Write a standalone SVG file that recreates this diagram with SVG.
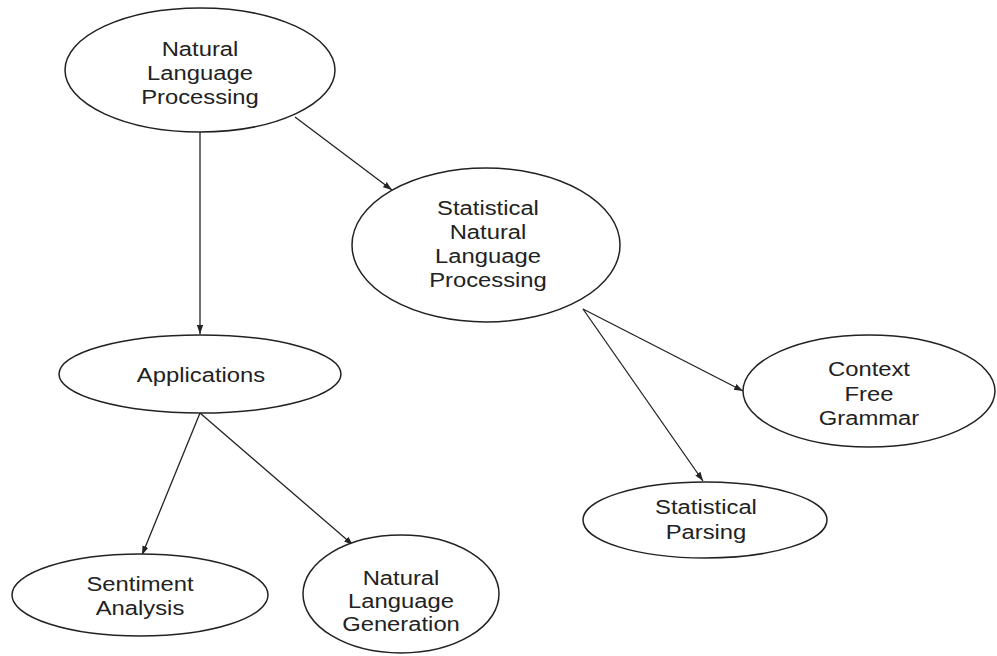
<svg xmlns="http://www.w3.org/2000/svg" width="997" height="656" viewBox="0 0 997 656">
<style>
.n{fill:#fff;stroke:#222;stroke-width:1.5}
.t{font-family:"Liberation Sans",Arial,sans-serif;font-size:20px;fill:#222;text-anchor:middle}
.c{stroke:#222;stroke-width:1.3;fill:none;marker-end:url(#ah)}
</style>
<defs>
<marker id="ah" viewBox="0 0 10 10" refX="10" refY="5" markerWidth="9" markerHeight="9" markerUnits="userSpaceOnUse" orient="auto">
<path d="M0,1.5 L10,5 L0,8.5 Z" fill="#222"/>
</marker>
</defs>
<rect width="997" height="656" fill="#fff"/>
<g id="connectors">
<line class="c" x1="200" y1="132" x2="200" y2="334"/>
<line class="c" x1="295" y1="117" x2="392" y2="190"/>
<line class="c" x1="200" y1="413" x2="142" y2="555"/>
<line class="c" x1="200" y1="413" x2="353" y2="545"/>
<line class="c" x1="583" y1="309" x2="743" y2="391"/>
<line class="c" x1="583" y1="309" x2="703" y2="481"/>
</g>
<g id="nlp">
<ellipse class="n" cx="200" cy="70" rx="135" ry="62"/>
<g transform="translate(200 0) scale(1.19 1)">
<text class="t" x="0" y="56">Natural</text>
<text class="t" x="0" y="80">Language</text>
<text class="t" x="0" y="104">Processing</text>
</g>
</g>
<g id="snlp">
<ellipse class="n" cx="486" cy="245" rx="134" ry="77"/>
<g transform="translate(488 0) scale(1.19 1)">
<text class="t" x="0" y="215">Statistical</text>
<text class="t" x="0" y="239">Natural</text>
<text class="t" x="0" y="263">Language</text>
<text class="t" x="0" y="287">Processing</text>
</g>
</g>
<g id="applications">
<ellipse class="n" cx="200" cy="374" rx="141" ry="39"/>
<g transform="translate(201 0) scale(1.19 1)">
<text class="t" x="0" y="382">Applications</text>
</g>
</g>
<g id="sentiment">
<ellipse class="n" cx="140" cy="595" rx="128" ry="41"/>
<g transform="translate(140 0) scale(1.19 1)">
<text class="t" x="0" y="591">Sentiment</text>
<text class="t" x="0" y="615">Analysis</text>
</g>
</g>
<g id="nlg">
<ellipse class="n" cx="401" cy="594" rx="98" ry="59"/>
<g transform="translate(401 0) scale(1.19 1)">
<text class="t" x="0" y="585">Natural</text>
<text class="t" x="0" y="608">Language</text>
<text class="t" x="0" y="631">Generation</text>
</g>
</g>
<g id="cfg">
<ellipse class="n" cx="869" cy="391" rx="126" ry="56"/>
<g transform="translate(869 0) scale(1.19 1)">
<text class="t" x="0" y="376">Context</text>
<text class="t" x="0" y="401">Free</text>
<text class="t" x="0" y="425">Grammar</text>
</g>
</g>
<g id="parsing">
<ellipse class="n" cx="705" cy="520" rx="122" ry="38"/>
<g transform="translate(706 0) scale(1.19 1)">
<text class="t" x="0" y="514">Statistical</text>
<text class="t" x="0" y="539">Parsing</text>
</g>
</g>
</svg>
